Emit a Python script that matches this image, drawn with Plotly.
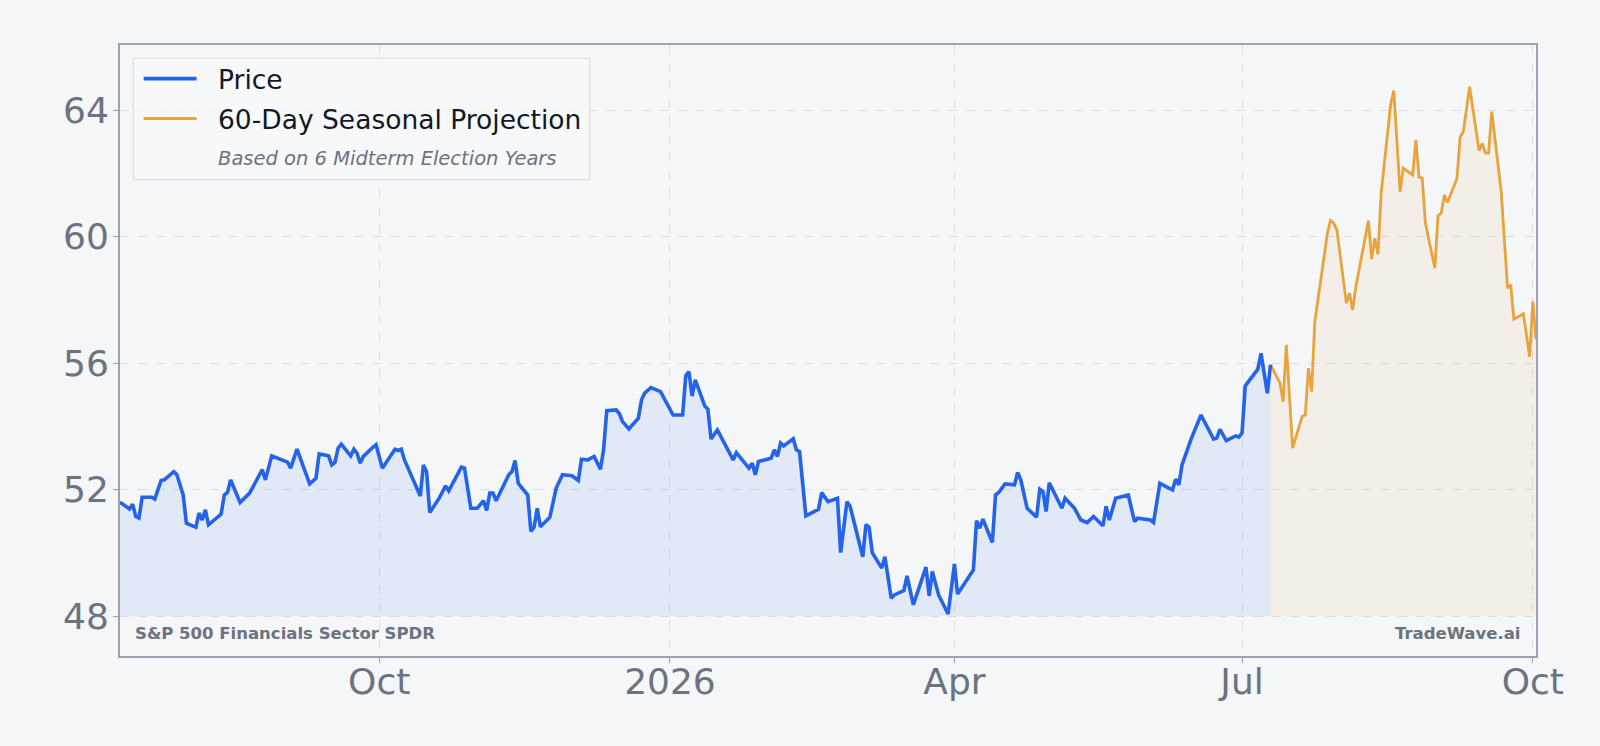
import plotly.graph_objects as go

price_dates = [
    "2025-07-11", "2025-07-14", "2025-07-15", "2025-07-16", "2025-07-17", "2025-07-18",
    "2025-07-21", "2025-07-22", "2025-07-24", "2025-07-25", "2025-07-28", "2025-07-29",
    "2025-07-31", "2025-08-01", "2025-08-04", "2025-08-05", "2025-08-06", "2025-08-07",
    "2025-08-08", "2025-08-12", "2025-08-13", "2025-08-14", "2025-08-15", "2025-08-18",
    "2025-08-21", "2025-08-25", "2025-08-26", "2025-08-28", "2025-09-02", "2025-09-03",
    "2025-09-05", "2025-09-09", "2025-09-11", "2025-09-12", "2025-09-15", "2025-09-16",
    "2025-09-17", "2025-09-18", "2025-09-19", "2025-09-22", "2025-09-23", "2025-09-24",
    "2025-09-25", "2025-09-26", "2025-09-29", "2025-09-30", "2025-10-02", "2025-10-06",
    "2025-10-07", "2025-10-08", "2025-10-09", "2025-10-12", "2025-10-14", "2025-10-15",
    "2025-10-16", "2025-10-17", "2025-10-20", "2025-10-22", "2025-10-23", "2025-10-27",
    "2025-10-28", "2025-10-30", "2025-11-01", "2025-11-03", "2025-11-04", "2025-11-05",
    "2025-11-06", "2025-11-07", "2025-11-11", "2025-11-12", "2025-11-13", "2025-11-14",
    "2025-11-17", "2025-11-18", "2025-11-19", "2025-11-20", "2025-11-21", "2025-11-24",
    "2025-11-26", "2025-11-28", "2025-12-01", "2025-12-03", "2025-12-04", "2025-12-06",
    "2025-12-08", "2025-12-10", "2025-12-11", "2025-12-12", "2025-12-15", "2025-12-16",
    "2025-12-17", "2025-12-19", "2025-12-22", "2025-12-23", "2025-12-24", "2025-12-26",
    "2025-12-29", "2026-01-02", "2026-01-05", "2026-01-06", "2026-01-07", "2026-01-08",
    "2026-01-09", "2026-01-12", "2026-01-13", "2026-01-14", "2026-01-16", "2026-01-21",
    "2026-01-22", "2026-01-26", "2026-01-27", "2026-01-28", "2026-01-29", "2026-02-02",
    "2026-02-03", "2026-02-04", "2026-02-05", "2026-02-06", "2026-02-09", "2026-02-10",
    "2026-02-11", "2026-02-13", "2026-02-17", "2026-02-18", "2026-02-20", "2026-02-23",
    "2026-02-24", "2026-02-26", "2026-02-27", "2026-03-03", "2026-03-04", "2026-03-05",
    "2026-03-06", "2026-03-09", "2026-03-10", "2026-03-12", "2026-03-13", "2026-03-16",
    "2026-03-17", "2026-03-19", "2026-03-23", "2026-03-24", "2026-03-25", "2026-03-27",
    "2026-03-30", "2026-04-01", "2026-04-02", "2026-04-07", "2026-04-08", "2026-04-09",
    "2026-04-10", "2026-04-13", "2026-04-14", "2026-04-15", "2026-04-17", "2026-04-20",
    "2026-04-21", "2026-04-22", "2026-04-24", "2026-04-27", "2026-04-28", "2026-04-29",
    "2026-04-30", "2026-05-01", "2026-05-05", "2026-05-06", "2026-05-09", "2026-05-11",
    "2026-05-13", "2026-05-15", "2026-05-18", "2026-05-19", "2026-05-20", "2026-05-22",
    "2026-05-26", "2026-05-28", "2026-05-29", "2026-06-02", "2026-06-03", "2026-06-05",
    "2026-06-09", "2026-06-10", "2026-06-11", "2026-06-12", "2026-06-15", "2026-06-18",
    "2026-06-22", "2026-06-23", "2026-06-24", "2026-06-26", "2026-06-29", "2026-06-30",
    "2026-07-01", "2026-07-02", "2026-07-06", "2026-07-07", "2026-07-09", "2026-07-10",
]
price_values = [
    51.60, 51.39, 51.54, 51.15, 51.10, 51.76,
    51.76, 51.70, 52.29, 52.31, 52.57, 52.47,
    51.83, 50.94, 50.81, 51.26, 51.04, 51.36,
    50.89, 51.23, 51.83, 51.91, 52.31, 51.59,
    51.89, 52.63, 52.31, 53.07, 52.87, 52.68,
    53.28, 52.18, 52.36, 53.13, 53.07, 52.78,
    52.86, 53.31, 53.44, 53.07, 53.28, 53.15,
    52.84, 53.05, 53.34, 53.42, 52.68, 53.28,
    53.24, 53.28, 52.94, 52.26, 51.80, 52.78,
    52.57, 51.28, 51.73, 52.12, 51.96, 52.71,
    52.68, 51.41, 51.41, 51.65, 51.34, 51.89,
    51.89, 51.65, 52.47, 52.57, 52.92, 52.20,
    51.83, 50.68, 50.81, 51.41, 50.83, 51.13,
    52.05, 52.47, 52.44, 52.29, 52.96, 52.94,
    53.05, 52.65, 53.26, 54.50, 54.52, 54.40,
    54.15, 53.92, 54.26, 54.84, 55.05, 55.23,
    55.10, 54.36, 54.36, 55.60, 55.73, 54.96,
    55.47, 54.65, 54.54, 53.60, 53.89, 52.94,
    53.17, 52.68, 52.84, 52.47, 52.89, 52.99,
    53.26, 53.05, 53.47, 53.38, 53.61, 53.26,
    53.20, 51.17, 51.38, 51.91, 51.62, 51.73,
    50.01, 51.62, 51.47, 49.88, 50.89, 50.81,
    50.01, 49.52, 49.88, 48.57, 48.67, 48.81,
    49.27, 48.36, 49.55, 48.64, 49.41, 48.67,
    48.07, 49.65, 48.70, 49.46, 51.02, 50.78,
    51.07, 50.33, 51.83, 51.91, 52.18, 52.15,
    52.54, 52.31, 51.41, 51.13, 52.01, 51.94,
    51.31, 52.22, 51.41, 51.73, 51.41, 51.04,
    50.96, 51.15, 50.86, 51.47, 51.04, 51.73,
    51.83, 50.99, 51.10, 51.04, 50.96, 52.20,
    51.99, 52.33, 52.15, 52.78, 53.63, 54.36,
    53.60, 53.63, 53.91, 53.55, 53.70, 53.66,
    53.79, 55.28, 55.81, 56.31, 55.05, 55.95,
]

proj_dates = [
    "2026-07-10", "2026-07-13", "2026-07-14", "2026-07-15", "2026-07-17", "2026-07-20",
    "2026-07-21", "2026-07-22", "2026-07-23", "2026-07-24", "2026-07-28", "2026-07-29",
    "2026-07-30", "2026-07-31", "2026-08-03", "2026-08-04", "2026-08-05", "2026-08-06",
    "2026-08-10", "2026-08-11", "2026-08-12", "2026-08-13", "2026-08-14", "2026-08-17",
    "2026-08-18", "2026-08-20", "2026-08-21", "2026-08-24", "2026-08-25", "2026-08-26",
    "2026-08-27", "2026-08-28", "2026-08-31", "2026-09-01", "2026-09-02", "2026-09-03",
    "2026-09-04", "2026-09-07", "2026-09-08", "2026-09-09", "2026-09-11", "2026-09-14",
    "2026-09-15", "2026-09-16", "2026-09-17", "2026-09-18", "2026-09-21", "2026-09-23",
    "2026-09-24", "2026-09-25", "2026-09-28", "2026-09-30", "2026-10-01", "2026-10-02",
]
proj_values = [
    55.95, 55.37, 54.78, 56.58, 53.31, 54.31,
    54.36, 55.84, 55.10, 57.29, 60.11, 60.51,
    60.43, 60.21, 57.90, 58.21, 57.68, 58.42,
    60.51, 59.29, 59.95, 59.44, 61.37, 64.17,
    64.62, 61.42, 62.16, 61.95, 63.06, 61.88,
    61.85, 60.43, 59.00, 60.66, 60.74, 61.32,
    61.08, 61.85, 63.15, 63.32, 64.74, 62.72,
    62.95, 62.64, 62.64, 63.95, 61.42, 58.37,
    58.48, 57.39, 57.56, 56.20, 57.95, 56.75,
]

y_ticks = [48, 52, 56, 60, 64]
x_tick_dates = ["2025-10-01", "2026-01-01", "2026-04-01", "2026-07-01", "2026-10-01"]
x_tick_labels = ["Oct", "2026", "Apr", "Jul", "Oct"]

legend_names = ["Price", "60-Day Seasonal Projection"]
legend_note = "Based on 6 Midterm Election Years"
label_left = "S&P 500 Financials Sector SPDR"
label_right = "TradeWave.ai"

FILL_BASE = 48
BLUE = "#2563eb"
ORANGE = "#e8a33d"
BG = "#f4f6f8"
GRID = "#d9dce2"
TICK = "#6b7280"
FONT = "DejaVu Sans"
PRICE_W = 3.6
PROJ_W = 2.8

fig = go.Figure()

# baselines + fills
fig.add_trace(go.Scatter(x=price_dates, y=[FILL_BASE] * len(price_dates), mode="lines",
                         line=dict(width=0), hoverinfo="skip", showlegend=False))
fig.add_trace(go.Scatter(x=price_dates, y=price_values, mode="lines", fill="tonexty",
                         fillcolor="rgba(37,99,235,0.09)", line=dict(width=0),
                         hoverinfo="skip", showlegend=False))
fig.add_trace(go.Scatter(x=proj_dates, y=[FILL_BASE] * len(proj_dates), mode="lines",
                         line=dict(width=0), hoverinfo="skip", showlegend=False))
fig.add_trace(go.Scatter(x=proj_dates, y=proj_values, mode="lines", fill="tonexty",
                         fillcolor="rgba(232,163,61,0.09)", line=dict(width=0),
                         hoverinfo="skip", showlegend=False))

# lines
fig.add_trace(go.Scatter(x=proj_dates, y=proj_values, mode="lines", name=legend_names[1],
                         line=dict(color=ORANGE, width=PROJ_W), showlegend=False))
fig.add_trace(go.Scatter(x=price_dates, y=price_values, mode="lines", name=legend_names[0],
                         line=dict(color=BLUE, width=PRICE_W), showlegend=False))

shapes = []
annotations = []

# manual legend box
x0, x1, y0, y1 = 0.0094, 0.3317, 0.7796, 0.9782
shapes.append(dict(type="rect", xref="paper", yref="paper", x0=x0, x1=x1, y0=y0, y1=y1,
                   line=dict(color="#d5d8de", width=1), fillcolor="rgba(247,248,250,0.85)",
                   layer="above"))
shapes.append(dict(type="line", xref="paper", yref="paper", x0=0.0167, x1=0.0541,
                   y0=0.9449, y1=0.9449, line=dict(color=BLUE, width=PRICE_W), layer="above"))
shapes.append(dict(type="line", xref="paper", yref="paper", x0=0.0167, x1=0.0541,
                   y0=0.8797, y1=0.8797, line=dict(color=ORANGE, width=PROJ_W), layer="above"))
annotations.append(dict(xref="paper", yref="paper", x=0.0675, y=0.9440, text=legend_names[0],
                        showarrow=False, xanchor="left", yanchor="middle",
                        font=dict(family=FONT, size=26.5, color="#111827")))
annotations.append(dict(xref="paper", yref="paper", x=0.0675, y=0.8785, text=legend_names[1],
                        showarrow=False, xanchor="left", yanchor="middle",
                        font=dict(family=FONT, size=26.5, color="#111827")))
annotations.append(dict(xref="paper", yref="paper", x=0.0675, y=0.8146,
                        text="<i>" + legend_note + "</i>",
                        showarrow=False, xanchor="left", yanchor="middle",
                        font=dict(family=FONT, size=19.5, color=TICK)))

annotations.append(dict(xref="paper", yref="paper", x=0.0094, y=0.0366,
                        text="<b>" + label_left + "</b>", showarrow=False,
                        xanchor="left", yanchor="middle",
                        font=dict(family=FONT, size=16.5, color=TICK)))
annotations.append(dict(xref="paper", yref="paper", x=0.9899, y=0.0366,
                        text="<b>" + label_right + "</b>", showarrow=False,
                        xanchor="right", yanchor="middle",
                        font=dict(family=FONT, size=16.5, color=TICK)))

fig.update_layout(
    width=1600, height=746,
    margin=dict(l=120, r=64, t=45, b=90),
    paper_bgcolor=BG, plot_bgcolor=BG,
    font=dict(family=FONT, color=TICK),
    showlegend=False,
    shapes=shapes, annotations=annotations,
    xaxis=dict(
        type="date", range=["2025-07-11", "2026-10-02"],
        tickvals=x_tick_dates, ticktext=x_tick_labels,
        tickfont=dict(family=FONT, size=36, color=TICK),
        ticklabelstandoff=-12,
        showgrid=True, gridcolor=GRID, griddash="dash", gridwidth=1,
        showline=True, linecolor="#9ca3af", linewidth=1.8, mirror=True,
        ticks="outside", ticklen=5, tickcolor="#9ca3af", zeroline=False,
    ),
    yaxis=dict(
        range=[46.74, 66.06], tickvals=y_ticks,
        tickfont=dict(family=FONT, size=36, color=TICK),
        ticklabelstandoff=-3,
        showgrid=True, gridcolor=GRID, griddash="dash", gridwidth=1,
        showline=True, linecolor="#9ca3af", linewidth=1.8, mirror=True,
        ticks="outside", ticklen=5, tickcolor="#9ca3af", zeroline=False,
    ),
)

fig.write_html("out.html")
